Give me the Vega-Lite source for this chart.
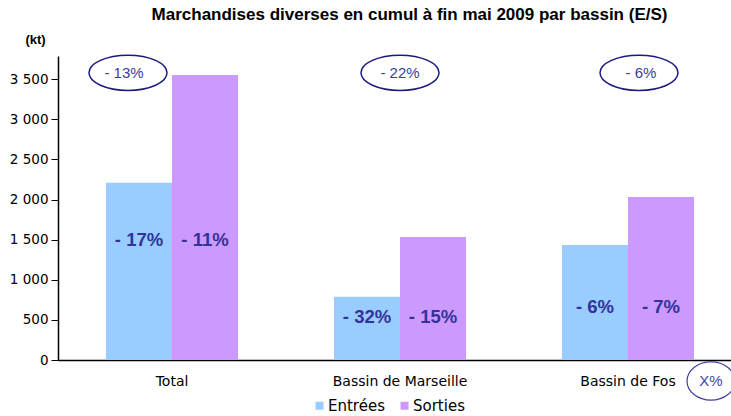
{
  "$schema": "https://vega.github.io/schema/vega-lite/v6.json",
  "width": 673,
  "height": 304,
  "autosize": {"type": "none"},
  "padding": {"left": 58, "top": 56, "right": 0, "bottom": 56},
  "background": "white",
  "title": {
    "text": "Marchandises diverses en cumul à fin mai 2009 par bassin (E/S)",
    "font": "Liberation Sans",
    "fontSize": 17,
    "fontWeight": "bold",
    "color": "black",
    "anchor": "middle",
    "dx": 15,
    "offset": 9
  },
  "datasets": {
    "barres": [
      {"bassin": "Total", "flux": "Entrées", "kt": 2210, "evolution": -17},
      {"bassin": "Total", "flux": "Sorties", "kt": 3553, "evolution": -11},
      {"bassin": "Bassin de Marseille", "flux": "Entrées", "kt": 790, "evolution": -32},
      {"bassin": "Bassin de Marseille", "flux": "Sorties", "kt": 1534, "evolution": -15},
      {"bassin": "Bassin de Fos", "flux": "Entrées", "kt": 1434, "evolution": -6},
      {"bassin": "Bassin de Fos", "flux": "Sorties", "kt": 2032, "evolution": -7}
    ],
    "totaux": [
      {"bassin": "Total", "evolution": -13},
      {"bassin": "Bassin de Marseille", "evolution": -22},
      {"bassin": "Bassin de Fos", "evolution": -6}
    ],
    "cle": [
      {"bassin": "Bassin de Fos", "texte": "X%"}
    ]
  },
  "data": {"name": "barres"},
  "encoding": {
    "x": {
      "field": "bassin",
      "type": "nominal",
      "scale": {
        "domain": ["Total", "Bassin de Marseille", "Bassin de Fos"],
        "paddingInner": 0.4211,
        "paddingOuter": 0.1864,
        "align": 0.5647
      },
      "axis": {
        "title": null,
        "labelAngle": 0,
        "ticks": false,
        "tickSize": 0,
        "labelPadding": 14,
        "labelFontSize": 14,
        "labelColor": "black",
        "labelFont": "DejaVu Sans",
        "domainColor": "black",
        "domainWidth": 1.5
      }
    }
  },
  "layer": [
    {
      "mark": {"type": "bar"},
      "encoding": {
        "xOffset": {
          "field": "flux",
          "type": "nominal",
          "scale": {"domain": ["Entrées", "Sorties"], "paddingInner": 0, "paddingOuter": 0}
        },
        "y": {
          "field": "kt",
          "type": "quantitative",
          "scale": {"domain": [0, 3790], "nice": false},
          "axis": {
            "title": "(kt)",
            "titleAngle": 0,
            "titleX": -23,
            "titleY": -17,
            "titleAlign": "center",
            "titleBaseline": "middle",
            "titleFont": "Liberation Sans",
            "titleFontSize": 13,
            "titleFontWeight": "bold",
            "titleColor": "black",
            "values": [0, 500, 1000, 1500, 2000, 2500, 3000, 3500],
            "labelExpr": "replace(format(datum.value, ','), ',', ' ')",
            "labelFont": "DejaVu Sans",
            "labelFontSize": 13.5,
            "labelColor": "black",
            "labelPadding": 3,
            "tickSize": 7,
            "tickColor": "black",
            "grid": false,
            "domainColor": "black",
            "domainWidth": 1.5
          }
        },
        "color": {
          "field": "flux",
          "type": "nominal",
          "scale": {"domain": ["Entrées", "Sorties"], "range": ["#99CCFF", "#CC99FF"]},
          "legend": {
            "title": null,
            "orient": "none",
            "legendX": 254,
            "legendY": 342,
            "direction": "horizontal",
            "symbolType": "square",
            "symbolSize": 64,
            "symbolStrokeWidth": 0,
            "labelFont": "DejaVu Sans",
            "labelFontSize": 15,
            "labelColor": "black",
            "labelOffset": 1,
            "columnPadding": 12,
            "padding": 0
          }
        }
      }
    },
    {
      "transform": [
        {"filter": "datum.bassin === 'Total'"},
        {"calculate": "'- ' + abs(datum.evolution) + '%'", "as": "label"}
      ],
      "mark": {"type": "text", "font": "Liberation Sans", "fontSize": 18.5, "fontWeight": "bold", "color": "#333399", "baseline": "middle"},
      "encoding": {
        "xOffset": {"field": "flux", "type": "nominal"},
        "y": {"datum": 1500},
        "text": {"field": "label"}
      }
    },
    {
      "transform": [
        {"filter": "datum.bassin === 'Bassin de Marseille'"},
        {"calculate": "'- ' + abs(datum.evolution) + '%'", "as": "label"}
      ],
      "mark": {"type": "text", "font": "Liberation Sans", "fontSize": 18.5, "fontWeight": "bold", "color": "#333399", "baseline": "middle"},
      "encoding": {
        "xOffset": {"field": "flux", "type": "nominal"},
        "y": {"datum": 540},
        "text": {"field": "label"}
      }
    },
    {
      "transform": [
        {"filter": "datum.bassin === 'Bassin de Fos'"},
        {"calculate": "'- ' + abs(datum.evolution) + '%'", "as": "label"}
      ],
      "mark": {"type": "text", "font": "Liberation Sans", "fontSize": 18.5, "fontWeight": "bold", "color": "#333399", "baseline": "middle"},
      "encoding": {
        "xOffset": {"field": "flux", "type": "nominal"},
        "y": {"datum": 665},
        "text": {"field": "label"}
      }
    },
    {
      "data": {"name": "totaux"},
      "transform": [
        {"filter": "datum.bassin === 'Total'"},
        {"calculate": "'- ' + abs(datum.evolution) + '%'", "as": "label"}
      ],
      "layer": [
        {
          "mark": {"type": "point", "shape": "M -1 0 A 1 0.45 0 1 1 1 0 A 1 0.45 0 1 1 -1 0 Z", "size": 6084, "filled": false, "stroke": "#1a1a80", "strokeWidth": 1.5, "opacity": 1, "xOffset": -44},
          "encoding": {"y": {"datum": 3580}}
        },
        {
          "mark": {"type": "text", "font": "Liberation Sans", "fontSize": 15, "color": "#3c3c9c", "baseline": "middle", "xOffset": -48},
          "encoding": {"y": {"datum": 3580}, "text": {"field": "label"}}
        }
      ]
    },
    {
      "data": {"name": "totaux"},
      "transform": [
        {"filter": "datum.bassin === 'Bassin de Marseille'"},
        {"calculate": "'- ' + abs(datum.evolution) + '%'", "as": "label"}
      ],
      "layer": [
        {
          "mark": {"type": "point", "shape": "M -1 0 A 1 0.45 0 1 1 1 0 A 1 0.45 0 1 1 -1 0 Z", "size": 6084, "filled": false, "stroke": "#1a1a80", "strokeWidth": 1.5, "opacity": 1, "xOffset": 0},
          "encoding": {"y": {"datum": 3580}}
        },
        {
          "mark": {"type": "text", "font": "Liberation Sans", "fontSize": 15, "color": "#3c3c9c", "baseline": "middle", "xOffset": 0},
          "encoding": {"y": {"datum": 3580}, "text": {"field": "label"}}
        }
      ]
    },
    {
      "data": {"name": "totaux"},
      "transform": [
        {"filter": "datum.bassin === 'Bassin de Fos'"},
        {"calculate": "'- ' + abs(datum.evolution) + '%'", "as": "label"}
      ],
      "layer": [
        {
          "mark": {"type": "point", "shape": "M -1 0 A 1 0.45 0 1 1 1 0 A 1 0.45 0 1 1 -1 0 Z", "size": 6084, "filled": false, "stroke": "#1a1a80", "strokeWidth": 1.5, "opacity": 1, "xOffset": 11},
          "encoding": {"y": {"datum": 3580}}
        },
        {
          "mark": {"type": "text", "font": "Liberation Sans", "fontSize": 15, "color": "#3c3c9c", "baseline": "middle", "xOffset": 13},
          "encoding": {"y": {"datum": 3580}, "text": {"field": "label"}}
        }
      ]
    },
    {
      "data": {"name": "cle"},
      "layer": [
        {
          "mark": {"type": "point", "shape": "M -1 0 A 1 0.8 0 1 1 1 0 A 1 0.8 0 1 1 -1 0 Z", "size": 2304, "filled": false, "stroke": "#4040a0", "strokeWidth": 1.2, "opacity": 1, "xOffset": 83},
          "encoding": {"y": {"datum": -262}}
        },
        {
          "mark": {"type": "text", "font": "Liberation Sans", "fontSize": 15, "color": "#4444aa", "baseline": "middle", "xOffset": 83},
          "encoding": {"y": {"datum": -262}, "text": {"field": "texte"}}
        }
      ]
    }
  ],
  "config": {
    "view": {"stroke": null},
    "font": "Liberation Sans"
  }
}
